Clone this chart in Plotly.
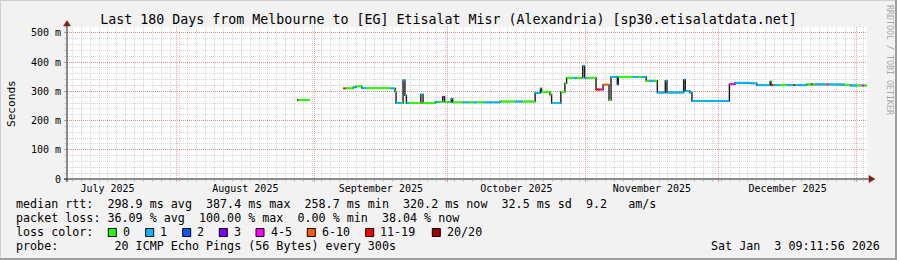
import plotly.graph_objects as go

# ---------------- data ----------------
start_time = "2025-07-07 09:11:56"
end_time = "2026-01-03 09:11:56"

# step segments of the median RTT (ms); each segment lasts until the next start
seg_start = [
    "2025-08-28 03:00", "2025-08-28 09:00", "2025-08-31 01:00",
    "2025-09-07 13:00", "2025-09-08 00:00", "2025-09-09 19:00", "2025-09-10 10:00",
    "2025-09-11 17:00", "2025-09-12 16:00", "2025-09-18 02:00", "2025-09-19 00:00",
    "2025-09-19 05:00", "2025-09-19 10:00", "2025-09-20 14:00", "2025-09-21 00:00",
    "2025-09-21 10:00", "2025-09-21 18:00", "2025-09-22 08:00", "2025-09-25 00:00",
    "2025-09-25 12:00", "2025-09-28 05:00", "2025-09-29 00:00", "2025-09-29 22:00",
    "2025-09-30 08:00", "2025-10-01 12:00", "2025-10-01 20:00", "2025-10-02 04:00",
    "2025-10-04 13:00", "2025-10-05 17:00", "2025-10-06 19:00", "2025-10-07 14:00",
    "2025-10-09 02:00", "2025-10-12 20:00", "2025-10-16 05:00", "2025-10-17 17:00",
    "2025-10-20 17:00", "2025-10-21 22:00", "2025-10-22 04:00", "2025-10-24 01:00",
    "2025-10-24 10:00", "2025-10-26 12:00", "2025-10-27 10:00", "2025-10-27 19:00",
    "2025-10-29 07:00", "2025-10-30 00:00", "2025-10-31 05:00", "2025-10-31 10:00",
    "2025-10-31 20:00", "2025-11-01 07:00", "2025-11-03 10:00", "2025-11-04 07:00",
    "2025-11-05 00:00", "2025-11-06 08:00", "2025-11-06 19:00", "2025-11-08 05:00",
    "2025-11-08 10:00", "2025-11-11 19:00", "2025-11-12 22:00", "2025-11-13 17:00",
    "2025-11-14 17:00", "2025-11-15 12:00", "2025-11-16 12:00", "2025-11-17 05:00",
    "2025-11-19 00:00", "2025-11-19 09:00", "2025-11-23 00:00", "2025-11-23 03:00",
    "2025-11-23 12:00", "2025-11-24 12:00", "2025-11-25 00:00", "2025-11-26 20:00",
    "2025-11-27 04:00", "2025-12-03 10:00", "2025-12-04 16:00", "2025-12-08 02:00",
    "2025-12-09 14:00", "2025-12-12 14:00", "2025-12-12 19:00", "2025-12-13 07:00",
    "2025-12-14 19:00", "2025-12-16 07:00", "2025-12-17 19:00", "2025-12-18 05:00",
    "2025-12-20 19:00", "2025-12-21 22:00", "2025-12-22 05:00", "2025-12-22 17:00",
    "2025-12-24 22:00", "2025-12-25 07:00", "2025-12-25 17:00", "2025-12-29 10:00",
    "2025-12-30 14:00", "2026-01-01 02:00", "2026-01-02 05:00", "2026-01-02 17:00",
]
seg_rtt = [
    270, 270, None,
    310, 310, 314, 317,
    311, 311, 310, 310,
    298, 260, 260, 338,
    286, 260, 260, 289,
    260, 263, 264, 281,
    264, 264, 275, 262,
    262, 262, 262, 262,
    262, 265, 265, 265,
    294, 310, 298, 289,
    260, 298, 327, 346,
    346, 346, 346, 387,
    346, 346, 306, 306,
    323, 270, 349, 323,
    349, 349, 349, 349,
    336, 336, 336, 296,
    336, 296, 296, 340,
    301, 296, 267, 267,
    267, 324, 329, 327,
    321, 334, 321, 321,
    321, 321, 321, 321,
    324, 324, 324, 324,
    324, 324, 324, 322,
    320, 320, 320, 320,
]
# index into loss_labels
seg_loss = [
    6, 0, 0,
    6, 0, 1, 0,
    1, 0, 1, 0,
    0, 1, 0, 1,
    1, 1, 0, 1,
    0, 1, 0, 3,
    0, 1, 1, 0,
    1, 0, 1, 0,
    1, 0, 1, 0,
    1, 1, 0, 0,
    1, 0, 0, 0,
    1, 0, 1, 1,
    1, 0, 6, 4,
    5, 0, 1, 1,
    0, 1, 0, 1,
    0, 1, 0, 1,
    1, 1, 0, 1,
    1, 1, 1, 0,
    1, 4, 1, 1,
    1, 0, 6, 1,
    0, 1, 6, 1,
    0, 6, 0, 1,
    0, 4, 1, 0,
    1, 0, 4, 0,
]

loss_labels = ["0", "1", "2", "3", "4-5", "6-10", "11-19", "20/20"]
loss_colors = ["#26ff00", "#00b8ff", "#0059ff", "#7e00ff", "#ff00ff",
               "#ff5e00", "#ff0000", "#a10000"]

y_tickvals = [0, 100, 200, 300, 400, 500]
y_ticktext = ["0", "100 m", "200 m", "300 m", "400 m", "500 m"]

title_text = "Last 180 Days from Melbourne to [EG] Etisalat Misr (Alexandria) [sp30.etisalatdata.net]"
line_rtt = "median rtt:  298.9 ms avg  387.4 ms max  258.7 ms min  320.2 ms now  32.5 ms sd  9.2   am/s"
line_loss = "packet loss: 36.09 % avg  100.00 % max  0.00 % min  38.04 % now"
line_color = "loss color:"
line_probe = "probe:        20 ICMP Echo Pings (56 Bytes) every 300s"
stamp = "Sat Jan  3 09:11:56 2026"
watermark = "RRDTOOL / TOBI OETIKER"

# ---------------- layout helpers (pixel -> paper) ----------------
W, H = 897, 260
ML, MR, MT, MB = 67, 30, 27, 81
PW = W - ML - MR
PH = H - MT - MB


def xp(px):
    return (px - ML) / PW


def yp(py):
    return (H - MB - py) / PH


def nb(s):
    return s.replace(" ", "\u00a0")


MONO = "DejaVu Sans Mono"

# ---------------- traces ----------------
n = len(seg_start)
bx, by = [], []
for i in range(n):
    s = seg_start[i]
    e = seg_start[i + 1] if i + 1 < n else end_time
    v = seg_rtt[i]
    if v is None:
        bx.append(None)
        by.append(None)
    else:
        bx += [s, e]
        by += [v, v]

fig = go.Figure()
fig.add_trace(go.Scatter(x=bx, y=by, mode="lines",
                         line=dict(color="#1a1a1a", width=1.4),
                         hoverinfo="skip", showlegend=False))

for c in range(len(loss_labels)):
    cx, cy = [], []
    for i in range(n):
        if seg_loss[i] != c or seg_rtt[i] is None:
            continue
        s = seg_start[i]
        e = seg_start[i + 1] if i + 1 < n else end_time
        cx += [s, e, None]
        cy += [seg_rtt[i], seg_rtt[i], None]
    if cx:
        fig.add_trace(go.Scatter(x=cx, y=cy, mode="lines",
                                 line=dict(color=loss_colors[c], width=2),
                                 hoverinfo="skip", showlegend=False))

GRID = "rgba(150,150,150,0.38)"
MGRID = "rgba(222,79,79,0.55)"

fig.update_xaxes(
    type="date", range=[start_time, end_time],
    tick0="2025-07-01", dtick="M1", ticklabelmode="period",
    tickformat="%B %Y", showgrid=True, gridcolor=MGRID, griddash="1px,1px",
    gridwidth=1, ticks="outside", ticklen=2, tickcolor=MGRID,
    ticklabelstandoff=-2,
    tickfont=dict(family=MONO, size=10, color="#000"),
    minor=dict(dtick=2 * 86400000, tick0="2025-07-04 14:00", showgrid=True,
               gridcolor=GRID, griddash="1px,1px", gridwidth=1,
               ticks="outside", ticklen=2, tickcolor=GRID),
    showline=False, zeroline=False, fixedrange=True,
)
fig.update_yaxes(
    range=[0, 520], tickvals=y_tickvals, ticktext=y_ticktext,
    showgrid=True, gridcolor=MGRID, griddash="1px,1px", gridwidth=1,
    ticks="outside", ticklen=2, tickcolor=MGRID,
    ticklabelstandoff=1,
    tickfont=dict(family=MONO, size=10, color="#000"),
    minor=dict(dtick=20, showgrid=True, gridcolor=GRID, griddash="1px,1px",
               gridwidth=1, ticks="outside", ticklen=2, tickcolor=GRID),
    showline=False, zeroline=False, fixedrange=True,
)

shapes = []
# axis lines
shapes.append(dict(type="line", xref="paper", yref="paper", x0=xp(64), x1=xp(871),
                   y0=0, y1=0, line=dict(color="#1f1f1f", width=1)))
shapes.append(dict(type="line", xref="paper", yref="paper", x0=0, x1=0,
                   y0=yp(182), y1=yp(24), line=dict(color="#1f1f1f", width=1)))
# arrows
shapes.append(dict(type="path", xref="paper", yref="paper",
                   path=f"M {xp(869)} {yp(175.5)} L {xp(875)} {yp(179)} L {xp(869)} {yp(182.5)} Z",
                   fillcolor="#801f1f", line=dict(color="#801f1f", width=0.5)))
shapes.append(dict(type="path", xref="paper", yref="paper",
                   path=f"M {xp(63.5)} {yp(26)} L {xp(67)} {yp(20.5)} L {xp(70.5)} {yp(26)} Z",
                   fillcolor="#801f1f", line=dict(color="#801f1f", width=0.5)))
# canvas frame
shapes.append(dict(type="line", xref="paper", yref="paper", x0=xp(0), x1=xp(W),
                   y0=yp(0.5), y1=yp(0.5), line=dict(color="#cfcfcf", width=1)))
shapes.append(dict(type="line", xref="paper", yref="paper", x0=xp(0.5), x1=xp(0.5),
                   y0=yp(0), y1=yp(H), line=dict(color="#cfcfcf", width=1)))
shapes.append(dict(type="line", xref="paper", yref="paper", x0=xp(0), x1=xp(W),
                   y0=yp(H - 1), y1=yp(H - 1), line=dict(color="#9e9e9e", width=2)))
shapes.append(dict(type="line", xref="paper", yref="paper", x0=xp(W - 1), x1=xp(W - 1),
                   y0=yp(0), y1=yp(H), line=dict(color="#9e9e9e", width=2)))

# loss colour legend boxes
box_left = [108.3, 145.7, 182.7, 219.3, 256.0, 307.3, 365.7, 432.3]
for i, bxl in enumerate(box_left):
    shapes.append(dict(type="rect", xref="paper", yref="paper",
                       x0=xp(bxl), x1=xp(bxl + 8), y0=yp(236.5), y1=yp(228.5),
                       fillcolor=loss_colors[i], line=dict(color="#000", width=1)))

ann = []


def text(px, py, s, size=11.7, xanchor="left", angle=0, color="#000", yanchor="middle"):
    ann.append(dict(xref="paper", yref="paper", x=xp(px), y=yp(py), text=nb(s),
                    showarrow=False, xanchor=xanchor, yanchor=yanchor,
                    textangle=angle, borderpad=0, borderwidth=0,
                    font=dict(family=MONO, size=size, color=color)))


text(16, 204.3, line_rtt)
text(16, 218.3, line_loss)
text(16, 232.3, line_color)
text(16, 246.3, line_probe)
text(880, 246.3, stamp, xanchor="right")
for i, bxl in enumerate(box_left):
    text(bxl + 14.5, 232.3, loss_labels[i])
text(11, 103, "Seconds", size=11.1, xanchor="center", angle=-90)
text(890, 60, watermark, size=8.3, xanchor="center", angle=90, color="#a8a8a8")

fig.update_layout(
    width=W, height=H,
    margin=dict(l=ML, r=MR, t=MT, b=MB, pad=0),
    paper_bgcolor="#f2f2f2", plot_bgcolor="#ffffff",
    title=dict(text=nb(title_text), x=0.5, xref="container", xanchor="center",
               y=1 - 19 / H, yref="container", yanchor="middle",
               font=dict(family=MONO, size=13.3, color="#000")),
    shapes=shapes, annotations=ann, showlegend=False,
)

fig.write_html("out.html", config={"displayModeBar": False})
